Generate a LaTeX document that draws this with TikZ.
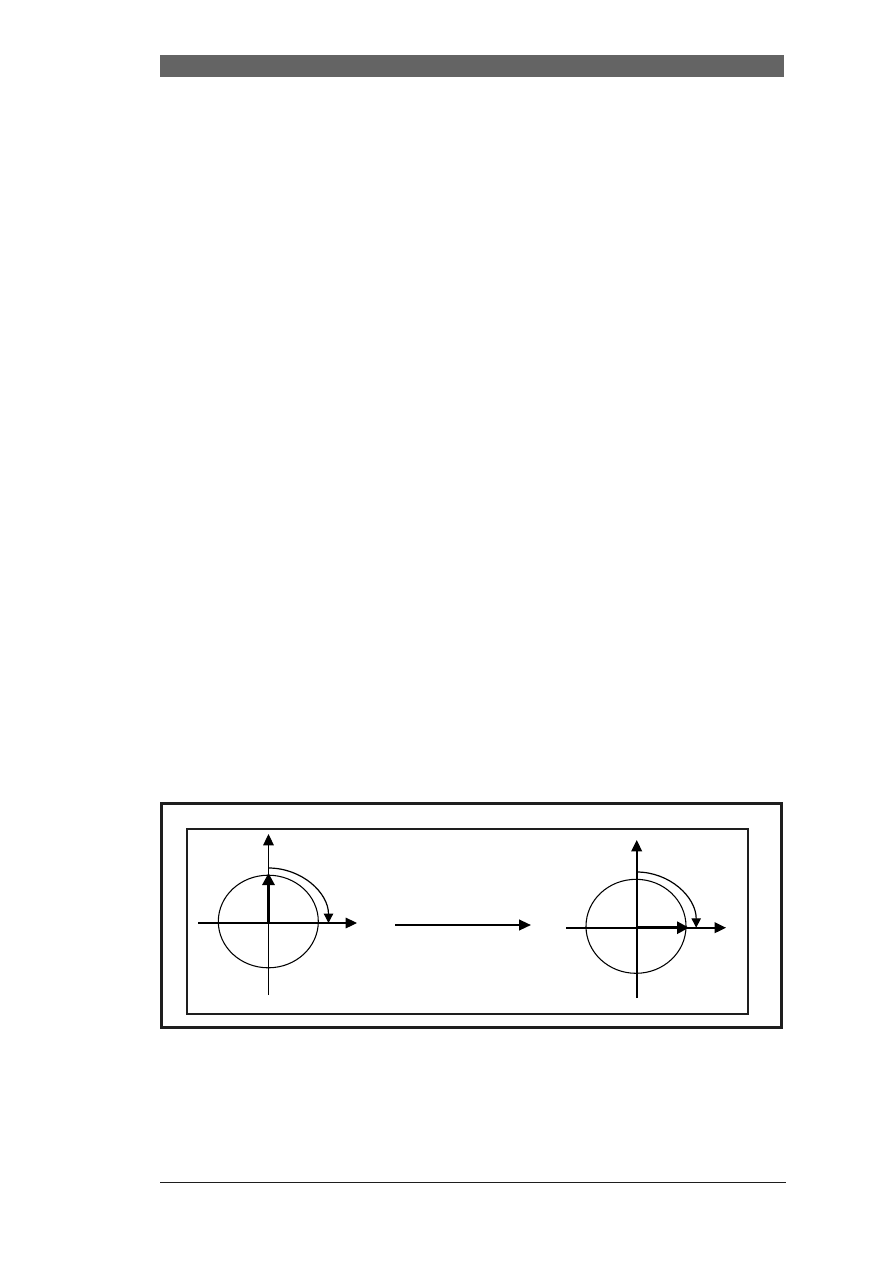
\documentclass[tikz,border=0pt]{standalone}
\usetikzlibrary{arrows.meta}
\definecolor{bargray}{RGB}{100,100,100}
\definecolor{ink}{RGB}{30,30,30}
\begin{document}
\begin{tikzpicture}[x=0.75pt,y=-0.75pt,
  axis/.style={line width=0.8pt,-{Triangle[length=8.5pt,width=8pt]}},
  vecarrow/.style={line width=2.2pt,-{Triangle[length=9pt,width=9pt]}},
  turn/.style={line width=0.9pt,-{Triangle[length=7pt,width=7pt]}},
  circ/.style={line width=0.8pt},
  frame/.style={draw=ink}]
\useasboundingbox (0,0) rectangle (893,1263);
% header bar and footer rule
\fill[bargray] (160,55) rectangle (784,77);
\draw[ink,line width=1pt] (160,1182.5) -- (786,1182.5);
% frames
\draw[frame,line width=2.3pt] (161.5,803.5) rectangle (781.5,1027.5);
\draw[frame,line width=1.5pt] (187,829) rectangle (748,1014);
% left diagram
\coordinate (c1) at (268.5,923);
\coordinate (l1) at (198,923);
\coordinate (r1) at (357,923);
\coordinate (b1) at (268.5,995);
\coordinate (t1) at (268.5,834);
\coordinate (v1) at (268.5,873);
\draw[circ] (268.3,921.5) ellipse [x radius=50, y radius=46.3];
\draw[axis] (l1) -- (r1);
\draw[axis] (b1) -- (t1);
\draw[vecarrow] (c1) -- (v1);
\draw[turn] (268.5,868) arc[start angle=-90,end angle=0,x radius=60,y radius=55];
% middle arrow
\coordinate (ma) at (395,925);
\coordinate (mb) at (531,925);
\draw[line width=1.6pt,-{Triangle[length=9pt,width=8pt]}] (ma) -- (mb);
% right diagram
\coordinate (c2) at (636.7,927.7);
\coordinate (l2) at (566,927.7);
\coordinate (r2) at (726,927.7);
\coordinate (b2) at (636.7,998);
\coordinate (t2) at (636.7,840);
\coordinate (v2) at (689,927.7);
\draw[circ] (636,926.3) ellipse [x radius=50, y radius=47];
\draw[axis,line width=1.2pt] (l2) -- (r2);
\draw[axis,line width=1.2pt] (b2) -- (t2);
\draw[vecarrow] (c2) -- (v2);
\draw[turn] (636.7,872) arc[start angle=-90,end angle=0,x radius=59.5,y radius=55.7];
\end{tikzpicture}
\end{document}
